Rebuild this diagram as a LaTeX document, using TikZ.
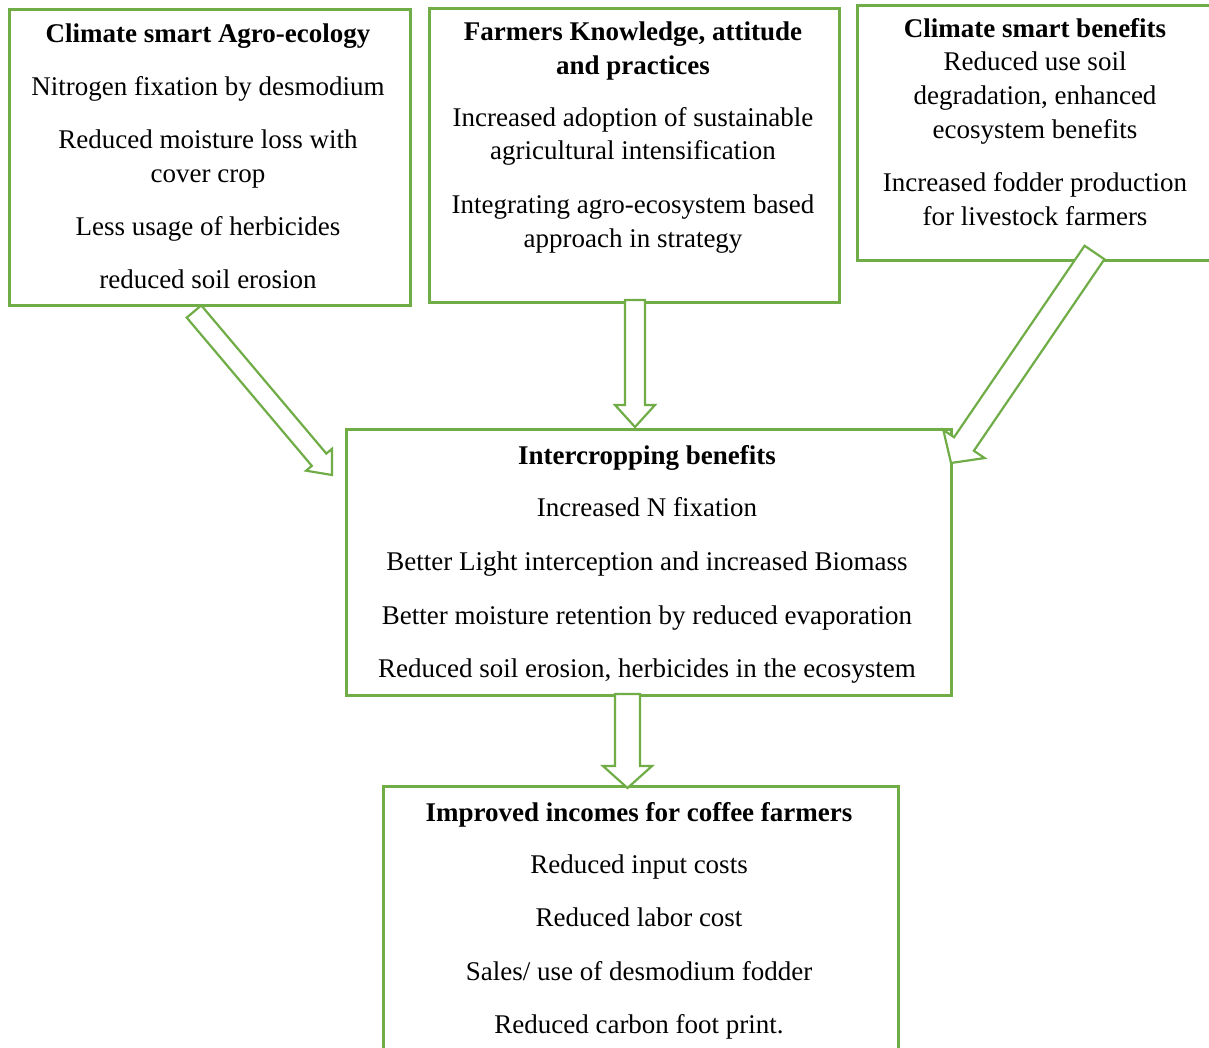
\documentclass[tikz,border=0pt]{standalone}
\usepackage{fontspec}
\setmainfont{Liberation Serif}
\usetikzlibrary{calc}
\definecolor{grn}{HTML}{70AD47}
\tikzset{
  x=1pt, y=-1pt,
  box/.style={draw=grn, line width=2.6pt, inner sep=0pt, anchor=north west},
  ln/.style={font=\fontsize{27}{30}\selectfont, inner sep=0pt, text height=20pt, text depth=4pt},
  hd/.style={ln, font=\fontsize{27}{30}\selectfont\bfseries},
  arr/.style={draw=grn, fill=white, line width=2.2pt, line join=miter},
}
\newcommand\blockarrow[5]{%
  \coordinate (ba-c) at ($(#2)!#5!(#1)$);
  \draw[arr] ($(#1)!#3!90:(#2)$) -- ($(ba-c)!#3!90:(#2)$) -- ($(ba-c)!#4!90:(#2)$) -- (#2)
    -- ($(ba-c)!#4!-90:(#2)$) -- ($(ba-c)!#3!-90:(#2)$) -- ($(#1)!#3!-90:(#2)$) -- cycle;}
\begin{document}
\begin{tikzpicture}
\useasboundingbox[fill=white] (0,0) rectangle (1209,1048);
% boxes
\node[box, minimum width=401pt, minimum height=296pt] (b1) at (8,8) {};
\node[box, minimum width=410pt, minimum height=294pt] (b2) at (428,7) {};
\node[box, minimum width=360pt, minimum height=255pt] (b3) at (856,4) {};
\node[box, minimum width=605pt, minimum height=266pt] (b4) at (345,428) {};
\node[box, minimum width=515pt, minimum height=270pt] (b5) at (382,785) {};
% texts
\node[hd] (t1h) at (208,35) {Climate smart Agro-ecology};
\foreach \yy/\tt [count=\i] in {88/{Nitrogen fixation by desmodium}, 141/{Reduced moisture loss with}, 175/{cover crop}, 228/{Less usage of herbicides}, 281/{reduced soil erosion}}
  \node[ln] (t1-\i) at (208,\yy) {\tt};
\node[hd] (t2h) at (633,33) {Farmers Knowledge, attitude};
\node[hd] (t2h2) at (633,67) {and practices};
\foreach \yy/\tt [count=\i] in {119/{Increased adoption of sustainable}, 152/{agricultural intensification}, 206/{Integrating agro-ecosystem based}, 240/{approach in strategy}}
  \node[ln] (t2-\i) at (633,\yy) {\tt};
\node[hd] (t3h) at (1035,30) {Climate smart benefits};
\foreach \yy/\tt [count=\i] in {63/{Reduced use soil}, 97/{degradation, enhanced}, 131/{ecosystem benefits}, 184/{Increased fodder production}, 218/{for livestock farmers}}
  \node[ln] (t3-\i) at (1035,\yy) {\tt};
\node[hd] (t4h) at (647,456) {Intercropping benefits};
\foreach \yy/\tt [count=\i] in {508/{Increased N fixation}, 562/{Better Light interception and increased Biomass}, 616/{Better moisture retention by reduced evaporation}, 669/{Reduced soil erosion, herbicides in the ecosystem}}
  \node[ln] (t4-\i) at (647,\yy) {\tt};
\node[hd] (t5h) at (639,813) {Improved incomes for coffee farmers};
\node[ln] (t5-1) at (639,865) {Reduced input costs};
\node[ln] (t5-2) at (639,918) {Reduced labor cost};
\node[ln] (t5-3) at (639,972) {Sales/ use of desmodium fodder};
\node[ln] (t5-4) at (639,1025) {Reduced carbon foot print.};
% arrows
\coordinate (a1s) at (194,311.5); \coordinate (a1e) at (332,475);
\coordinate (a2s) at (635,300);   \coordinate (a2e) at (635,427);
\coordinate (a3s) at (1094.5,252.5); \coordinate (a3e) at (951,463);
\coordinate (a4s) at (627.5,694); \coordinate (a4e) at (627.5,788);
\blockarrow{a1s}{a1e}{9.5pt}{17pt}{20pt}
\blockarrow{a2s}{a2e}{10pt}{20pt}{22pt}
\blockarrow{a3s}{a3e}{12pt}{25pt}{23pt}
\blockarrow{a4s}{a4e}{12.5pt}{24.5pt}{22pt}
\end{tikzpicture}
\end{document}
